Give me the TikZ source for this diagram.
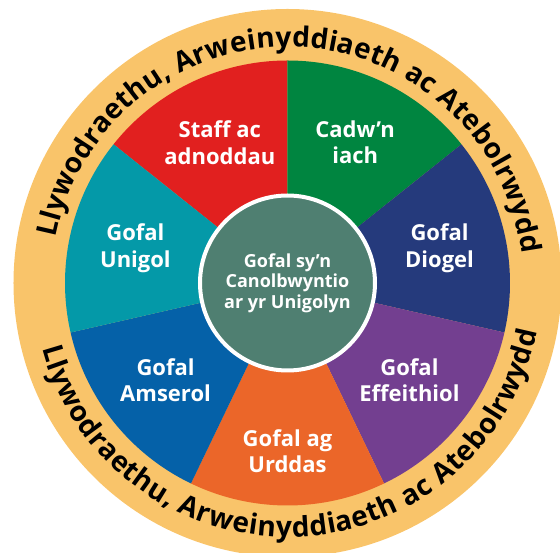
\documentclass[tikz,border=0pt]{standalone}
\usepackage{fontspec}
\setmainfont{Open Sans}
\newcommand{\labelfont}{\bfseries}
\newcommand{\ringfont}{\fontsize{28}{32}\selectfont\bfseries}
\usetikzlibrary{decorations.text}

\definecolor{ringyellow}{HTML}{F9C46A}
\definecolor{wedgered}{HTML}{E1201F}
\definecolor{wedgegreen}{HTML}{008540}
\definecolor{wedgenavy}{HTML}{253A7C}
\definecolor{wedgepurple}{HTML}{733F90}
\definecolor{wedgeorange}{HTML}{EB6629}
\definecolor{wedgeblue}{HTML}{0561A8}
\definecolor{wedgeteal}{HTML}{0499A8}
\definecolor{hubgreen}{HTML}{4F7F71}

\begin{document}
\begin{tikzpicture}[x=1pt,y=1pt,
    wedgelabel/.style={text=white,align=center,inner sep=0,font=\labelfont\fontsize{22}{26.5}\selectfont},
    hub/.style={circle,fill=hubgreen,draw=white,line width=4pt,minimum size=175pt,inner sep=0,
      text=white,align=center,font=\labelfont\fontsize{18}{20.5}\selectfont}]
    \useasboundingbox (-287.5,-270) rectangle (272.5,283);
    % outer ring
    \fill[ringyellow] (0,0) circle (274);
    % seven wedges
    \foreach \col/\ang/\rad/\txt [count=\i] in {
        wedgered/115.714/156/{Staff ac\\adnoddau},
        wedgegreen/64.286/156/{Cadw’n\\iach},
        wedgenavy/12.857/156/{Gofal\\Diogel},
        wedgepurple/-38.571/156/{Gofal\\Effeithiol},
        wedgeorange/-90/168/{Gofal ag\\Urddas},
        wedgeblue/-141.429/156/{Gofal\\Amserol},
        wedgeteal/167.143/156/{Gofal\\Unigol}} {
      \fill[\col] (0,0) -- (\ang-25.714:222.5)
        arc[start angle=\ang-25.714, end angle=\ang+25.714, radius=222.5] -- cycle;
      \node[wedgelabel] (w\i) at (\ang:\rad) {\txt};
    }
    \node[hub] (centre) at (0,0) {Gofal sy’n\\Canolbwyntio\\ar yr Unigolyn};
    % text round the ring
    \path[decorate,decoration={text along path,text align=fit to path,
        text={|\ringfont|Llywodraethu, Arweinyddiaeth ac Atebolrwydd}}]
      (169:236) arc[start angle=169, end angle=7, radius=236];
    \path[decorate,decoration={text along path,text align=fit to path,
        text={|\ringfont|Llywodraethu, Arweinyddiaeth ac Atebolrwydd}}]
      (195:254) arc[start angle=195, end angle=349, radius=254];
\end{tikzpicture}
\end{document}
